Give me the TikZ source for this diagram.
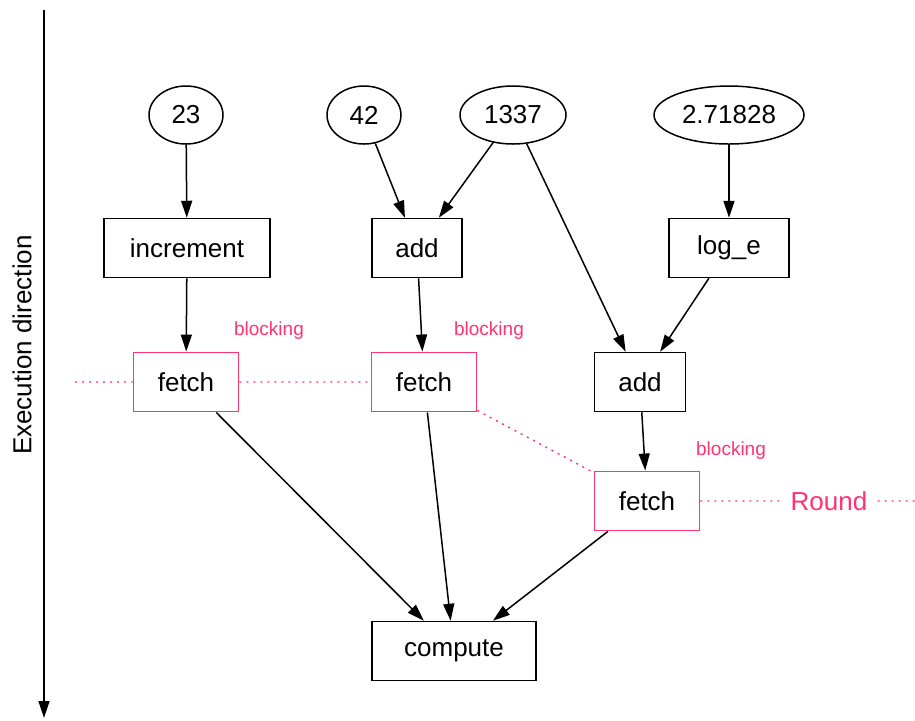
\documentclass[tikz,border=0pt]{standalone}
\usepackage{fontspec}
\setmainfont{Liberation Sans}
\usetikzlibrary{shapes.geometric,arrows.meta}
\definecolor{roundpink}{RGB}{255,51,112}
\begin{document}
\begin{tikzpicture}[x=0.5pt,y=-0.5pt,>={Triangle[length=8.5pt,width=5.5pt]},
    every node/.style={font=\fontsize{13}{15}\selectfont},
    val/.style={ellipse,draw,line width=0.75pt,inner sep=0pt,minimum height=29pt},
    op/.style={rectangle,draw,line width=0.75pt,minimum height=29.5pt},
    fetchbox/.style={op,draw=roundpink,line width=0.95pt,minimum width=52.5pt},
    note/.style={text=roundpink,font=\fontsize{9.5}{11}\selectfont},
    flow/.style={->,line width=0.75pt},
    roundline/.style={draw=roundpink,line width=0.7pt,dash pattern=on 1pt off 2.5pt}]
    \useasboundingbox (0,0) rectangle (915,720);
    % execution axis
    \coordinate (top) at (44,10);
    \coordinate (bottom) at (44,718);
    \draw[flow] (top) -- (bottom);
    \node[rotate=90] (axis) at (22,345) {Execution direction};
    % values
    \foreach \name/\x/\w/\val in {v23/186/37/23,v42/364/37/42,v1337/513/53/1337,ve/729/75/2.71828}
        \node[val,minimum width=\w pt] (\name) at (\x,115) {\val};
    % operations
    \node[op,minimum width=83pt] (inc) at (187,248) {increment};
    \node[op,minimum width=45pt] (add1) at (417,248) {add};
    \node[op,minimum width=60pt] (loge) at (729,248) {log\_e};
    \node[fetchbox] (fetch1) at (186,382) {fetch};
    \node[fetchbox] (fetch2) at (424,382) {fetch};
    \node[op,minimum width=45.5pt] (add2) at (640,382) {add};
    \node[fetchbox] (fetch3) at (647,501) {fetch};
    \node[op,minimum width=82pt] (compute) at (454,651) {compute};
    % blocking notes
    \foreach \name/\x/\y in {block1/269/331,block2/489/331,block3/731/451}
        \node[note] (\name) at (\x,\y) {blocking};
    % round
    \node[text=roundpink,inner sep=5pt] (round) at (829,501) {Round};
    \coordinate (roundin) at (75,382);
    \coordinate (roundout) at (915,501);
    \draw[roundline] (roundin) -- (fetch1) -- (fetch2) -- (fetch3) -- (round) -- (roundout);
    % dependencies
    \foreach \a/\b in {v23/inc,v42/add1,v1337/add1,v1337/add2,ve/loge,inc/fetch1,add1/fetch2,loge/add2,add2/fetch3,fetch1/compute,fetch2/compute,fetch3/compute}
        \draw[flow] (\a) -- (\b);
\end{tikzpicture}
\end{document}
